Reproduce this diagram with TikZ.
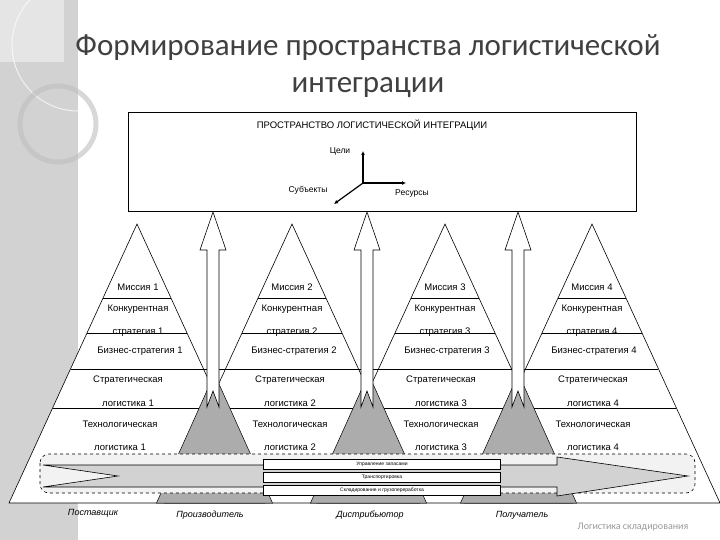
\documentclass[tikz,border=0pt]{standalone}
\usepackage{fontspec}
\setmainfont{Liberation Sans}
\newfontfamily\titlefont{Carlito}
\usetikzlibrary{arrows.meta}
\begin{document}
\begin{tikzpicture}[x=1pt,y=-1pt,
  lbl/.style={font=\fontsize{9.5}{11}\selectfont, inner sep=0pt},
  who/.style={font=\fontsize{9}{10}\selectfont\itshape, inner sep=0pt},
  ovl/.style={fill=gray!65, draw=black, line width=0.5pt},
  pyr/.style={fill=white, draw=black, line width=0.6pt},
  uparr/.style={fill=white, draw=black, line width=0.6pt},
  lyr/.style={draw=black, line width=0.6pt},
  smallbox/.style={draw=black, fill=white, line width=0.5pt, minimum width=237pt, minimum height=10pt, inner sep=0pt, font=\fontsize{5}{6}\selectfont}]
\useasboundingbox (0,0) rectangle (720,540);
\fill[white] (0,0) rectangle (720,540);
% side panel
\fill[gray!35] (0,0) rectangle (78,540);
\fill[gray!20] (0,0) rectangle (64,62);
\draw[white, line width=1pt, opacity=0.7] (78,45) circle (66);
\draw[gray!50, line width=5pt, opacity=0.6] (58,124) circle (38);
% title
\node[font=\titlefont\fontsize{31}{37}\selectfont, text=black!75, align=center] (title) at (368,66) {Формирование пространства логистической\\интеграции};
% top box
\node[draw=black, line width=0.7pt, minimum width=508pt, minimum height=99pt, inner sep=0pt] (space) at (382,161.5) {};
\node[lbl] (spacet) at (372,125) {ПРОСТРАНСТВО ЛОГИСТИЧЕСКОЙ ИНТЕГРАЦИИ};
\coordinate (o) at (363,183);
\coordinate (ay) at (363,151);
\coordinate (ax) at (406,183);
\coordinate (az) at (334,204);
\draw[line width=1.2pt, -{Latex[length=4pt,width=4pt]}] (o) -- (ay);
\draw[line width=1.2pt, -{Latex[length=4pt,width=4pt]}] (o) -- (ax);
\draw[line width=1.2pt, -{Latex[length=4pt,width=4pt]}] (o) -- (az);
\node[lbl, font=\fontsize{8.5}{10}\selectfont] (goals) at (340,151) {Цели};
\node[lbl, font=\fontsize{8.5}{10}\selectfont] (subj) at (308,190) {Субъекты};
\node[lbl, font=\fontsize{8.5}{10}\selectfont] (res) at (412,193) {Ресурсы};
% pyramids
\foreach \a in {137,292,445,592}{
  \draw[pyr] (\a,224) -- (\a-128,503) -- (\a+128,503) -- cycle;
  \draw[lyr] (\a-33.9,298) -- (\a+33.9,298);
  \draw[lyr] (\a-49.9,333) -- (\a+49.9,333);
}
\draw[lyr] (71,369) -- (658,369);
\draw[lyr] (53,408) -- (676,408);
% overlaps
\foreach \a/\b in {137/292,292/445,445/592}{
  \draw[ovl] ({(\a+\b)/2},374) -- ({(\a+\b)/2-58},503) -- ({(\a+\b)/2+58},503) -- cycle;
}
% vertical arrows
\foreach \c in {213,367,518}{
  \draw[uparr] (\c,212) -- (\c+13,250) -- (\c+6,250) -- (\c+6,407) -- (\c,391) -- (\c-6,407) -- (\c-6,250) -- (\c-13,250) -- cycle;
}
% texts
\foreach \a/\n/\s/\t in {138/1/128/120,292/2/290/290,445/3/441/441,592/4/593/593}{
  \node[lbl] at (\a,287) {Миссия \n};
  \node[lbl] at (\a,309) {Конкурентная};
  \node[lbl] at (\a,332) {стратегия \n};
  \node[lbl] at (\a+2,351) {Бизнес-стратегия \n};
  \node[lbl] at (\s,380) {Стратегическая};
  \node[lbl] at (\s,403) {логистика \n};
  \node[lbl] at (\t,424) {Технологическая};
  \node[lbl] at (\t,447) {логистика \n};
}
% flow
\draw[dashed, fill=gray!10, rounded corners=9pt, line width=0.6pt] (40,454) rectangle (695,493);
\draw[fill=gray!35, line width=0.6pt] (43,465) -- (557,465) -- (557,457) -- (688,476) -- (557,496) -- (557,487) -- (43,487) -- (118,476) -- cycle;
\node[smallbox] (inv) at (382,464) {Управление запасами};
\node[smallbox] (trn) at (382,477) {Транспортировка};
\node[smallbox] (wh) at (382,490) {Складирование и грузопереработка};
% actors
\node[who] (sup) at (93,513) {Поставщик};
\node[who] (man) at (210,515) {Производитель};
\node[who] (dis) at (370,515) {Дистрибьютор};
\node[who] (rec) at (522,515) {Получатель};
\node[font=\titlefont\fontsize{10}{12}\selectfont, text=gray!80, inner sep=0pt] (foot) at (633,527) {Логистика складирования};
\end{tikzpicture}
\end{document}
